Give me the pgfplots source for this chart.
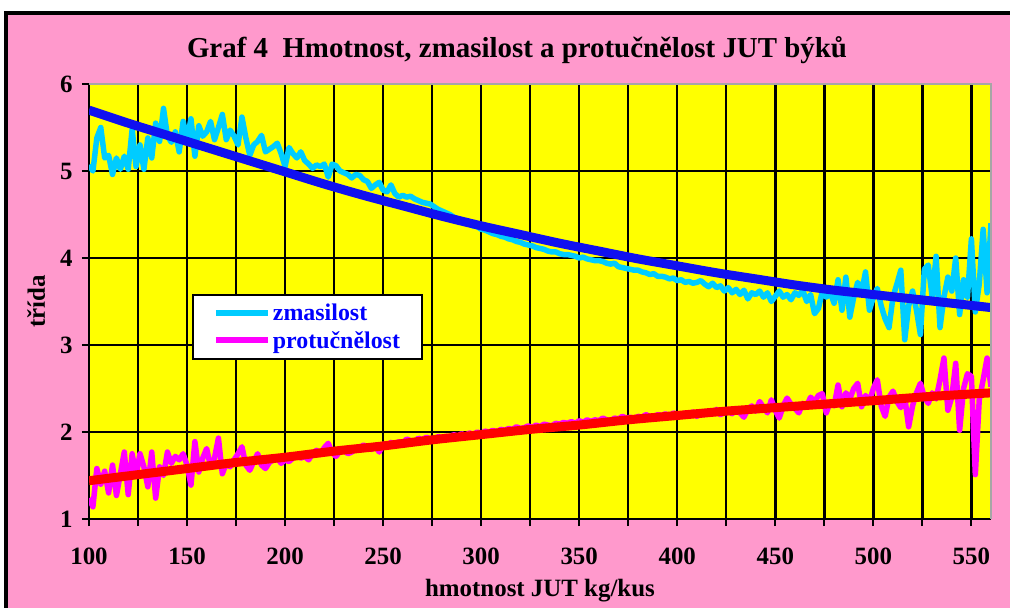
\documentclass[border=0pt]{standalone}
\usepackage{pgfplots}
\usepackage{pgfplotstable}
\pgfplotsset{compat=1.18}
\usepackage{fontspec}
\setmainfont{Liberation Serif}
\definecolor{bgpink}{HTML}{FF99CC}
\definecolor{plotyellow}{HTML}{FFFF00}
\definecolor{zcyan}{HTML}{00CCFF}
\definecolor{tblue}{HTML}{1010F0}
\definecolor{pmag}{HTML}{FF00FF}
\definecolor{tred}{HTML}{FF0000}
\definecolor{legblue}{HTML}{0000FF}

\pgfplotstableread{
x z p
100 5.07 1.24
102 5.00 1.14
104 5.38 1.58
106 5.50 1.40
108 5.15 1.55
110 5.18 1.30
112 4.96 1.62
114 5.15 1.27
116 5.02 1.52
118 5.17 1.77
120 5.02 1.28
122 5.48 1.75
124 5.05 1.50
126 5.30 1.75
128 5.02 1.60
130 5.38 1.37
132 5.15 1.77
134 5.55 1.24
136 5.34 1.60
138 5.72 1.50
140 5.40 1.77
142 5.33 1.64
144 5.45 1.72
146 5.22 1.68
148 5.57 1.75
150 5.36 1.62
152 5.60 1.39
154 5.17 1.89
156 5.52 1.54
158 5.40 1.70
160 5.45 1.81
162 5.57 1.60
164 5.36 1.70
166 5.50 1.93
168 5.65 1.52
170 5.36 1.64
172 5.47 1.60
174 5.40 1.68
176 5.30 1.75
178 5.62 1.83
180 5.38 1.62
182 5.18 1.56
184 5.30 1.66
186 5.34 1.75
188 5.41 1.62
190 5.22 1.58
192 5.25 1.65
194 5.28 1.68
196 5.32 1.70
198 5.20 1.64
200 5.05 1.68
202 5.27 1.66
204 5.20 1.70
206 5.15 1.73
208 5.22 1.70
210 5.12 1.72
212 5.08 1.68
214 5.03 1.75
216 5.07 1.79
218 5.05 1.74
220 5.08 1.82
222 4.93 1.87
224 5.08 1.76
226 5.06 1.72
228 5.00 1.78
230 4.98 1.80
232 4.96 1.75
234 4.92 1.77
236 4.96 1.80
238 4.95 1.82
240 4.90 1.85
242 4.88 1.83
244 4.80 1.80
246 4.84 1.84
248 4.87 1.77
250 4.78 1.86
252 4.76 1.84
254 4.84 1.88
256 4.74 1.85
258 4.70 1.89
260 4.72 1.87
262 4.70 1.92
264 4.71 1.90
266 4.68 1.88
268 4.66 1.93
270 4.64 1.91
272 4.63 1.94
274 4.62 1.92
276 4.59 1.90
278 4.56 1.95
280 4.54 1.93
282 4.52 1.95
284 4.50 1.94
286 4.47 1.97
288 4.45 1.95
290 4.44 1.98
292 4.41 1.96
294 4.39 1.99
296 4.37 1.97
298 4.36 2.00
300 4.33 1.98
302 4.32 2.01
304 4.30 2.00
306 4.28 2.02
308 4.27 2.00
310 4.25 2.03
312 4.24 2.02
314 4.22 2.04
316 4.21 2.03
318 4.19 2.06
320 4.18 2.04
322 4.16 2.05
324 4.15 2.07
326 4.14 2.05
328 4.12 2.08
330 4.11 2.06
332 4.10 2.09
334 4.08 2.08
336 4.07 2.07
338 4.07 2.10
340 4.05 2.09
342 4.04 2.11
344 4.04 2.10
346 4.03 2.12
348 4.02 2.10
350 4.00 2.13
352 4.01 2.11
354 3.99 2.14
356 3.98 2.12
358 3.97 2.14
360 3.97 2.13
362 3.96 2.16
364 3.94 2.14
366 3.93 2.13
368 3.94 2.16
370 3.90 2.15
372 3.89 2.18
374 3.88 2.16
376 3.87 2.17
378 3.86 2.15
380 3.86 2.18
382 3.84 2.17
384 3.83 2.20
386 3.81 2.18
388 3.82 2.17
390 3.79 2.20
392 3.79 2.19
394 3.78 2.21
396 3.76 2.18
398 3.77 2.22
400 3.74 2.20
402 3.75 2.19
404 3.72 2.22
406 3.73 2.20
408 3.71 2.23
410 3.72 2.18
412 3.74 2.21
414 3.70 2.20
416 3.67 2.24
418 3.71 2.21
420 3.66 2.26
422 3.68 2.20
424 3.62 2.22
426 3.66 2.24
428 3.60 2.21
430 3.64 2.27
432 3.58 2.22
434 3.63 2.17
436 3.53 2.26
438 3.60 2.30
440 3.58 2.24
442 3.62 2.35
444 3.55 2.28
446 3.60 2.22
448 3.50 2.37
450 3.56 2.25
452 3.62 2.16
454 3.55 2.30
456 3.58 2.39
458 3.52 2.32
460 3.60 2.27
462 3.57 2.22
464 3.63 2.33
466 3.50 2.30
468 3.58 2.40
470 3.36 2.35
472 3.42 2.42
474 3.62 2.44
476 3.55 2.22
478 3.60 2.35
480 3.48 2.30
482 3.75 2.54
484 3.40 2.29
486 3.78 2.45
488 3.32 2.38
490 3.55 2.50
492 3.72 2.56
494 3.60 2.29
496 3.84 2.42
498 3.40 2.35
500 3.55 2.50
502 3.65 2.60
504 3.45 2.30
506 3.30 2.18
508 3.20 2.40
510 3.55 2.47
512 3.70 2.35
514 3.86 2.28
516 3.06 2.40
518 3.45 2.06
520 3.62 2.30
522 3.40 2.45
524 3.12 2.56
526 3.87 2.40
528 3.92 2.33
530 3.55 2.45
532 4.02 2.38
534 3.20 2.60
536 3.55 2.85
538 3.78 2.25
540 3.62 2.40
542 4.00 2.79
544 3.35 2.02
546 3.75 2.50
548 3.55 2.67
550 4.22 2.64
552 3.38 1.51
554 3.70 2.37
556 4.33 2.60
558 3.60 2.85
560 4.40 2.52
}\noisy

\pgfplotstableread{
x y
100 5.70
120 5.55
140 5.41
160 5.27
180 5.13
200 4.99
220 4.85
240 4.72
260 4.60
280 4.48
300 4.37
320 4.27
340 4.17
360 4.08
380 3.99
400 3.91
420 3.83
440 3.76
460 3.69
480 3.63
500 3.58
520 3.53
540 3.48
560 3.43
}\trendz

\pgfplotstableread{
x y
100 1.44
125 1.51
150 1.58
175 1.65
200 1.71
225 1.78
250 1.84
275 1.91
300 1.97
325 2.03
350 2.08
375 2.14
400 2.19
425 2.24
450 2.28
475 2.32
500 2.36
530 2.41
560 2.45
}\trendp

\begin{document}
\begin{tikzpicture}
\useasboundingbox (0,0) rectangle (1010bp,-608bp);
\fill[white] (0,0) rectangle (1010bp,-608bp);
\draw[line width=4bp, fill=bgpink] (6bp,-13bp) rectangle (1040bp,-640bp);
\node[font=\bfseries\fontsize{29}{29}\selectfont] at (517bp,-50bp) {Graf 4\ \ Hmotnost, zmasilost a protučnělost JUT býků};
\begin{axis}[
  at={(89bp,-519bp)}, anchor=south west,
  scale only axis, width=902bp, height=435bp,
  xmin=100, xmax=560, ymin=1, ymax=6,
  axis background/.style={fill=plotyellow},
  xtick={100,125,...,550},
  xticklabels={100,,150,,200,,250,,300,,350,,400,,450,,500,,550},
  ytick={1,2,3,4,5,6},
  grid=major, grid style={black, line width=2.4bp},
  axis x line*=bottom, axis y line*=left,
  axis line style={black, line width=2.2bp, -},
  tick align=outside, major tick length=7bp,
  tick style={black, line width=2.2bp},
  /pgf/number format/assume math mode=true,
  ticklabel style={font=\bfseries\fontsize{25}{25}\selectfont},
  xticklabel style={yshift=-18bp},
  yticklabel style={xshift=-6bp},
  xlabel={hmotnost JUT kg/kus},
  ylabel={třída},
  label style={font=\bfseries\fontsize{25}{25}\selectfont},
  xlabel style={yshift=-8bp},
  ylabel style={yshift=8bp},
  legend cell align=left,
  legend style={at={(0.114,0.517)}, anchor=north west, draw=black, line width=2.2bp,
    fill=white, font=\bfseries\fontsize{24}{24}\selectfont, text=legblue,
    inner xsep=20bp, inner ysep=7bp, row sep=5bp},
  legend image code/.code={\draw[#1, line width=6bp] (0bp,0bp) -- (52bp,0bp);},
  after end axis/.code={\draw[gray!70, line width=2bp] (rel axis cs:0,1) -- (rel axis cs:1,1) -- (rel axis cs:1,0);},
]
\addplot[zcyan, line width=5.5bp, line join=round] table[x=x, y=z] {\noisy};
\addlegendentry{zmasilost}
\addplot[pmag, line width=5.5bp, line join=round] table[x=x, y=p] {\noisy};
\addlegendentry{protučnělost}
\addplot[tblue, line width=9bp, smooth, forget plot] table[x=x, y=y] {\trendz};
\addplot[tred, line width=9bp, smooth, forget plot] table[x=x, y=y] {\trendp};
\end{axis}
\end{tikzpicture}
\end{document}
